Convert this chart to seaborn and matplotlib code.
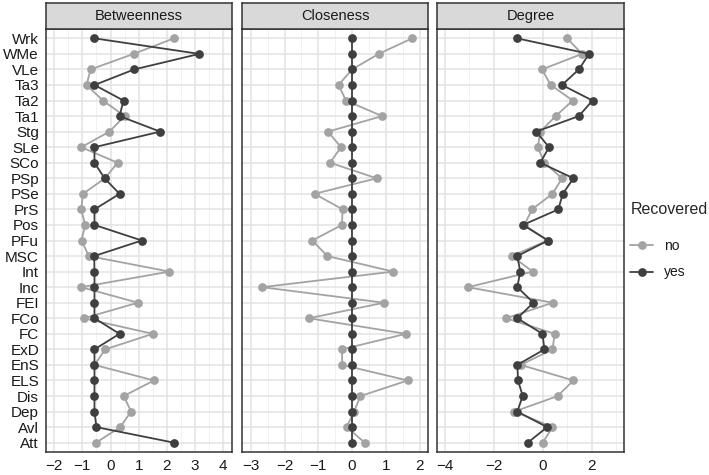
import numpy as np
import pandas as pd
import matplotlib
matplotlib.use("Agg")
import matplotlib.pyplot as plt
import seaborn as sns
from matplotlib.ticker import MultipleLocator

sns.set_style("white")
plt.rcParams['font.family'] = ['Liberation Sans', 'DejaVu Sans']

# categories from bottom to top
nodes = ["Att", "Avl", "Dep", "Dis", "ELS", "EnS", "ExD", "FC", "FCo", "FEI", "Inc", "Int",
         "MSC", "PFu", "Pos", "PrS", "PSe", "PSp", "SCo", "SLe", "Stg", "Ta1", "Ta2", "Ta3",
         "VLe", "WMe", "Wrk"]

betw_yes = [2.25, -0.50, -0.57, -0.57, -0.57, -0.57, -0.57, 0.32, -0.57, -0.57, -0.57, -0.57,
            -0.58, 1.11, -0.57, -0.57, 0.32, -0.21, -0.57, -0.57, 1.76, 0.32, 0.46, -0.57,
            0.84, 3.15, -0.57]
betw_no = [-0.51, 0.34, 0.73, 0.47, 1.54, -0.57, -0.19, 1.50, -0.95, 0.97, -1.04, 2.09,
           -0.77, -1.03, -0.90, -1.04, -0.98, -0.20, 0.25, -1.04, -0.04, 0.50, -0.27, -0.85,
           -0.71, 0.82, 2.25]
clos_yes = [0.0] * 27
clos_no = [0.38, -0.16, 0.06, 0.25, 1.65, -0.29, -0.30, 1.60, -1.28, 0.95, -2.67, 1.22,
           -0.73, -1.18, -0.30, -0.28, -1.11, 0.73, -0.65, -0.33, -0.71, 0.89, -0.18, -0.40,
           0.00, 0.79, 1.78]
deg_yes = [-0.61, 0.18, -1.04, -0.82, -1.01, -1.04, 0.07, -0.01, -1.04, -0.38, -1.04, -0.92,
           -1.04, 0.22, -0.81, 0.64, 0.82, 1.26, -0.10, 0.26, -0.27, 1.48, 2.04, 0.79,
           1.48, 1.90, -1.05]
deg_no = [0.00, 0.40, -1.16, 0.61, 1.26, -0.90, 0.40, 0.49, -1.50, 0.41, -3.07, -0.41,
          -1.27, 0.20, -0.75, -0.44, 0.40, 0.79, 0.07, -0.20, -0.10, 0.53, 1.23, 0.33,
          -0.03, 1.61, 1.00]

measures = ["Betweenness", "Closeness", "Degree"]
values = {"Betweenness": (betw_no, betw_yes),
          "Closeness": (clos_no, clos_yes),
          "Degree": (deg_no, deg_yes)}

rows = []
for m in measures:
    no, yes = values[m]
    for i, n in enumerate(nodes):
        rows.append((m, n, i, no[i], "no"))
        rows.append((m, n, i, yes[i], "yes"))
df = pd.DataFrame(rows, columns=["measure", "node", "pos", "value", "Recovered"])

palette = {"no": "#A3A3A3", "yes": "#3F3F3F"}

W, H = 709, 475
fig = plt.figure(figsize=(W / 100, H / 100), dpi=100)

panels = [(46, 232), (242, 428), (437, 624)]
top_px, bot_px, strip_top = 29, 452, 3
xlims = {"Betweenness": (-2.29, 4.31), "Closeness": (-3.26, 2.25), "Degree": (-4.33, 3.33)}
xmaj = {"Betweenness": 1, "Closeness": 1, "Degree": 2}

border = "#333333"
for k, (m, (x0, x1)) in enumerate(zip(measures, panels)):
    ax = fig.add_axes([x0 / W, 1 - bot_px / H, (x1 - x0) / W, (bot_px - top_px) / H])
    sub = df[df.measure == m]
    sns.lineplot(data=sub, x="value", y="pos", hue="Recovered", palette=palette,
                 orient="y", sort=True, marker="o", markersize=6.3, markeredgewidth=0,
                 linewidth=1.3, ax=ax, legend=(k == 2))
    ax.set_xlim(*xlims[m])
    ax.set_ylim(-0.6, len(nodes) - 1 + 0.6)
    ax.xaxis.set_major_locator(MultipleLocator(xmaj[m]))
    ax.xaxis.set_minor_locator(MultipleLocator(xmaj[m] / 2))
    ax.set_yticks(range(len(nodes)))
    ax.grid(True, which="major", color="#E3E3E3", linewidth=1.1)
    ax.grid(True, which="minor", axis="x", color="#EFEFEF", linewidth=0.6)
    ax.set_axisbelow(True)
    for s in ax.spines.values():
        s.set_color(border)
        s.set_linewidth(1.1)
    ax.tick_params(axis="both", which="major", length=3, width=0.8, color=border,
                   labelsize=11, labelcolor="#1A1A1A", pad=2)
    ax.tick_params(axis="both", which="minor", length=0)
    if k == 0:
        ax.set_yticklabels(nodes)
    else:
        ax.set_yticklabels([])
        ax.tick_params(axis="y", length=0)
    ax.set_xlabel("")
    ax.set_ylabel("")
    # strip
    sax = fig.add_axes([x0 / W, 1 - top_px / H, (x1 - x0) / W, (top_px - strip_top) / H])
    sax.set_facecolor("#D9D9D9")
    sax.set_xticks([])
    sax.set_yticks([])
    for s in sax.spines.values():
        s.set_color(border)
        s.set_linewidth(1.1)
    sax.text(0.5, 0.5, m, ha="center", va="center", fontsize=10.5, color="#1A1A1A",
             transform=sax.transAxes)
    if k == 2:
        leg = ax.legend(title="Recovered", loc="center left", bbox_to_anchor=(0.99, 0.50),
                        frameon=False, fontsize=10, title_fontsize=11.5, handlelength=1.6,
                        labelspacing=0.9, borderaxespad=0.2)
        leg._legend_box.align = "left"
        leg._legend_box.sep = 16
        for t in leg.get_texts():
            t.set_color("#1A1A1A")

fig.savefig("out.png", dpi=100)
